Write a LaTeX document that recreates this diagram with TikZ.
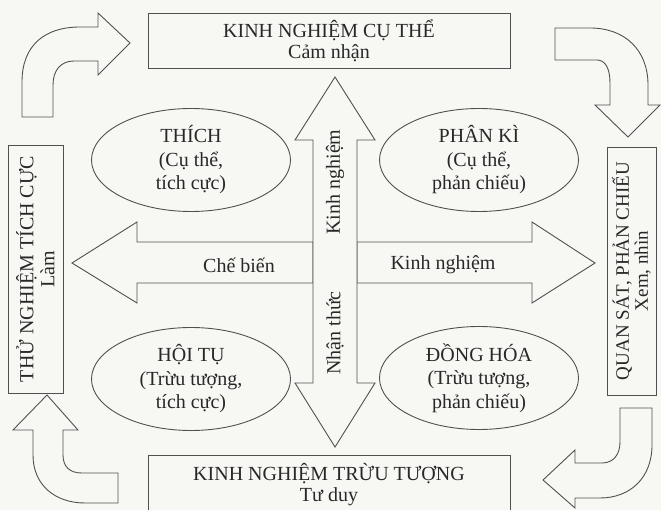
\documentclass[tikz,border=0pt]{standalone}
\usepackage{fontspec}
\setmainfont{Liberation Serif}
\usetikzlibrary{shapes.geometric}
\definecolor{bg}{RGB}{247,247,244}
\definecolor{ln}{RGB}{80,80,80}
\definecolor{tx}{RGB}{40,40,40}
\tikzset{
  blk/.style={draw=ln, line width=0.9pt, fill=bg, line join=miter},
  boxnode/.style={draw=ln, line width=0.9pt, fill=bg, rectangle, inner sep=0pt, align=center, text=tx,
     font=\fontsize{20}{21}\selectfont},
  ell/.style={draw=ln, line width=0.9pt, fill=bg, ellipse, inner sep=0pt, align=center, text=tx,
     minimum width=199pt, minimum height=103pt, font=\fontsize{20}{23.5}\selectfont},
  lbl/.style={text=tx, inner sep=0pt, font=\fontsize{20}{22}\selectfont},
}
\begin{document}
\begin{tikzpicture}[x=1pt,y=-1pt]
\useasboundingbox[fill=bg] (0,0) rectangle (661,510);
% curved arrows
\draw[blk] (22,117) -- (22,82) .. controls (22,45) and (45,27) .. (80,27) -- (98,27) -- (98,13) -- (130,43) -- (98,75) -- (98,61) -- (74,61) .. controls (61,61) and (53,70) .. (53,85) -- (53,117) -- cycle;
\draw[blk] (555,28) -- (590,28) .. controls (625,28) and (648,50) .. (648,85) -- (648,105) -- (660,105) -- (628,137) -- (595,105) -- (610,105) -- (610,83) .. controls (610,68) and (605,60) .. (597,60) -- (555,60) -- cycle;
\draw[blk] (620,408) -- (652,408) -- (652,445) .. controls (652,478) and (630,498) .. (600,498) -- (575,498) -- (575,508) -- (543,480) -- (575,450) -- (575,463) -- (602,463) .. controls (613,463) and (620,455) .. (620,442) -- cycle;
\draw[blk] (47,395) -- (78,430) -- (63,430) -- (63,455) .. controls (63,467) and (70,473) .. (82,473) -- (118,473) -- (118,503) -- (85,503) .. controls (55,503) and (33,485) .. (33,455) -- (33,430) -- (13,430) -- cycle;
% boxes
\node[boxnode, minimum width=362pt, minimum height=55pt] (top) at (329,40.5) {KINH NGHIỆM CỤ THỂ\\Cảm nhận};
\node[boxnode, minimum width=362pt, minimum height=60pt] (bot) at (329,485) {KINH NGHIỆM TRỪU TƯỢNG\\Tư duy};
\node[boxnode, rotate=90, minimum width=248pt, minimum height=55pt] (left) at (35.5,269) {THỬ NGHIỆM TÍCH CỰC\\Làm};
\node[boxnode, rotate=90, minimum width=248pt, minimum height=49pt, font=\fontsize{19}{19}\selectfont] (right) at (631.5,271) {QUAN SÁT, PHẢN CHIẾU\\Xem, nhìn};
% ellipses
\node[ell] (thich) at (191,160) {THÍCH\\(Cụ thể,\\tích cực)};
\node[ell] (phanki) at (479,160) {PHÂN KÌ\\(Cụ thể,\\phản chiếu)};
\node[ell] (hoitu) at (191,379) {HỘI TỤ\\(Trừu tượng,\\tích cực)};
\node[ell] (dongh) at (479,378) {ĐỒNG HÓA\\(Trừu tượng,\\phản chiếu)};
% horizontal arrows
\draw[blk] (313,242) -- (137,242) -- (137,222) -- (72,263) -- (137,303) -- (137,283) -- (313,283) -- cycle;
\draw[blk] (357,242) -- (532,242) -- (532,222) -- (595,263) -- (532,303) -- (532,283) -- (357,283) -- cycle;
% vertical double arrow
\draw[blk] (335,77) -- (375,140) -- (357,140) -- (357,383) -- (375,383) -- (335,447) -- (295,383) -- (313,383) -- (313,140) -- (295,140) -- cycle;
% labels
\node[lbl] (chebien) at (239,265) {Chế biến};
\node[lbl] (kn1) at (443,265) {Kinh nghiệm};
\node[lbl, rotate=90] (kn2) at (335,182) {Kinh nghiệm};
\node[lbl, rotate=90] (nt) at (335,333) {Nhận thức};
\end{tikzpicture}
\end{document}
